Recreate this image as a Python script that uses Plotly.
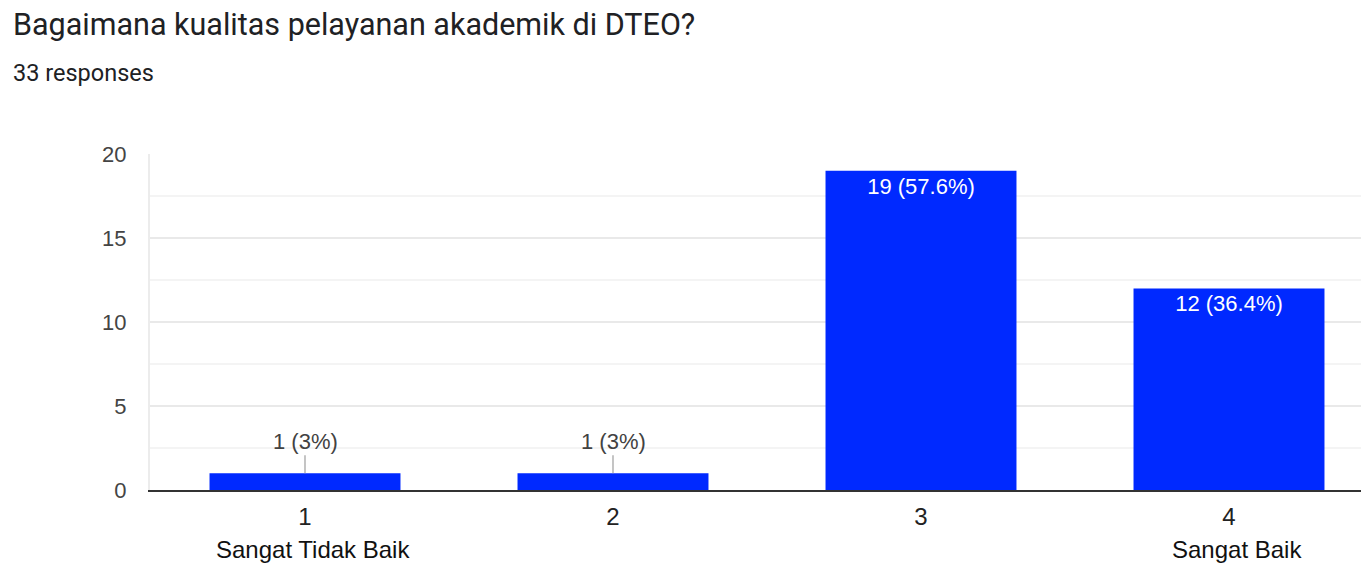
import plotly.graph_objects as go

categories = [1, 2, 3, 4]
counts = [1, 1, 19, 12]
scale_labels = {1: "Sangat Tidak Baik", 4: "Sangat Baik"}
title_text = "Bagaimana kualitas pelayanan akademik di DTEO?"
total = sum(counts)

# page has an 8px body margin on every side; keep the figure inside the window
OFF = 8
W, H = 1369 - 2 * OFF, 575 - 2 * OFF
ML, MR, MT = 150 - OFF, 0, 154 - OFF
MB = H - (490 - OFF)
pw = W - ML - MR
ph = H - MT - MB

# category spacing 308 px, category 1 centred at page x=305
x_lo = 1 - (150 - 305) / -308
x_hi = 1 + ((OFF + W) - 305) / 308

AX_FONT = "Liberation Sans, Arial"


def pct(v):
    p = round(v / total * 100, 1)
    s = f"{p:.1f}"
    if s.endswith(".0"):
        s = s[:-2]
    return f"{v} ({s}%)"


labels = [pct(v) for v in counts]
inside_text = [lab if v >= 5 else "" for lab, v in zip(labels, counts)]

fig = go.Figure()
fig.add_trace(go.Bar(
    x=categories, y=counts, width=0.62,
    marker=dict(color="#0029FF", line=dict(width=0)),
    text=inside_text, textposition="inside", insidetextanchor="end",
    textangle=0, constraintext="none",
    textfont=dict(family=AX_FONT, size=22, color="#ffffff"),
    hoverinfo="skip",
))

annotations = []
for c, v, lab in zip(categories, counts, labels):
    if v < 5:
        annotations.append(dict(
            x=c, y=v, xref="x", yref="y", text=lab, showarrow=True,
            arrowhead=0, arrowwidth=1.2, arrowcolor="#9e9e9e",
            ax=0, ay=-32, standoff=0,
            font=dict(family=AX_FONT, size=22, color="#424242"),
        ))
for c, lab in scale_labels.items():
    annotations.append(dict(
        x=c + 0.025, y=-(549 - 490) / ph, xref="x", yref="paper", text=lab, showarrow=False,
        xanchor="center", yanchor="middle",
        font=dict(family=AX_FONT, size=24, color="#111111"),
    ))

annotations.append(dict(
    x=(11 - OFF - ML) / pw, y=(H - MB - (24 - OFF)) / ph, xref="paper", yref="paper",
    text=title_text, showarrow=False, xanchor="left", yanchor="middle",
    font=dict(family="Roboto", size=30.5, color="#202124"),
))
annotations.append(dict(
    x=(11 - OFF - ML) / pw, y=(H - MB - (73 - OFF)) / ph, xref="paper", yref="paper",
    text=f"{total} responses", showarrow=False, xanchor="left", yanchor="middle",
    font=dict(family="Roboto", size=23.5, color="#202124"),
))

fig.update_layout(
    width=W, height=H,
    margin=dict(l=ML, r=MR, t=MT, b=MB, pad=0),
    plot_bgcolor="#ffffff", paper_bgcolor="#ffffff",
    showlegend=False,
    annotations=annotations,
)
fig.update_xaxes(
    range=[x_lo, x_hi], tickvals=categories, ticktext=[str(c) for c in categories],
    showgrid=False, zeroline=False, ticks="",
    showline=True, linecolor="#333333", linewidth=2,
    tickfont=dict(family=AX_FONT, size=24, color="#222222"),
    ticklabelstandoff=4,
)
fig.update_yaxes(
    range=[0, 20], tickvals=[0, 5, 10, 15, 20],
    showgrid=True, gridcolor="#e9e9e9", gridwidth=1.5,
    minor=dict(tickvals=[2.5, 7.5, 12.5, 17.5], showgrid=True, gridcolor="#f4f4f4", gridwidth=1.5),
    zeroline=False, ticks="",
    showline=True, linecolor="#ececec", linewidth=2,
    tickfont=dict(family=AX_FONT, size=22, color="#444444"),
    ticklabelstandoff=17,
)

fig.write_html("out.html")
